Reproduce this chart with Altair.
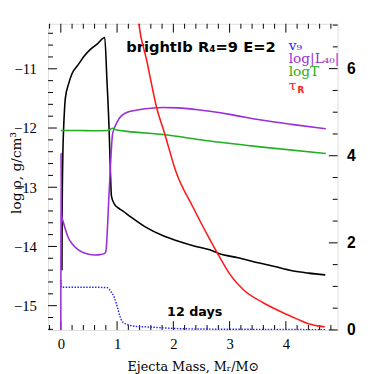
import altair as alt
import pandas as pd
import numpy as np

# ---------------- data ----------------
X_DOMAIN = [-0.226, 4.92]
RHO_DOMAIN = [-15.41, -10.24]
R_DOMAIN = [0.0, 7.03]

rho_mass = [0.02, 0.025, 0.035, 0.05, 0.065, 0.08, 0.14, 0.20, 0.31, 0.42, 0.54, 0.66, 0.78,
            0.82, 0.86, 0.88, 0.90, 0.95, 1.02, 1.10, 1.24, 1.50, 1.82, 2.05, 2.40, 2.66,
            2.81, 3.15, 3.53, 3.80, 4.11, 4.40, 4.70]
rho_val = [-14.4, -13.3, -12.5, -12.0, -11.7, -11.5, -11.25, -11.08, -10.93, -10.78, -10.66,
           -10.57, -10.47, -11.2, -12.07, -12.7, -13.15, -13.28, -13.35, -13.4, -13.5, -13.67,
           -13.82, -13.9, -14.0, -14.06, -14.12, -14.19, -14.28, -14.34, -14.41, -14.45, -14.48]

lum_mass = [0.0, 0.004, 0.008, 0.014, 0.02, 0.05, 0.08, 0.14, 0.2, 0.3, 0.43, 0.6, 0.7, 0.78,
            0.80, 0.86, 0.92, 0.95, 1.0, 1.04, 1.1, 1.18, 1.36, 1.6, 1.8, 2.1, 2.4, 3.0, 3.56,
            4.1, 4.71]
lum_val = [0.0, 4.05, 3.3, 2.7, 2.6, 2.45, 2.31, 2.1, 1.98, 1.85, 1.76, 1.72, 1.73, 1.76,
           1.8, 3.2, 4.5, 4.63, 4.77, 4.86, 4.94, 5.0, 5.05, 5.09, 5.11, 5.1, 5.06, 4.95, 4.82,
           4.72, 4.62]

temp_mass = [0.0, 0.3, 0.6, 0.83, 0.88, 0.92, 0.97, 1.05, 1.18, 1.85, 2.57, 3.5, 4.71]
temp_val = [4.58, 4.58, 4.575, 4.58, 4.61, 4.63, 4.6, 4.58, 4.56, 4.48, 4.35, 4.21, 4.05]

tau_mass = [1.37, 1.386, 1.53, 1.70, 1.85, 2.05, 2.34, 2.66, 2.81, 3.01, 3.24, 3.59, 3.94,
            4.20, 4.40, 4.69]
tau_val = [7.2, 7.03, 6.17, 5.12, 4.49, 3.62, 2.84, 2.05, 1.70, 1.27, 0.93, 0.63, 0.40,
           0.25, 0.14, 0.07]

vel_mass = [0.0, 0.005, 0.01, 0.3, 0.6, 0.83, 0.88, 0.95, 1.0, 1.05, 1.1, 1.17, 1.24, 1.36,
            1.53, 1.8, 2.1, 2.6, 3.2, 4.0, 4.71]
vel_val = [1.15, 1.05, 0.98, 0.98, 0.98, 0.97, 0.9, 0.75, 0.55, 0.32, 0.18, 0.13, 0.1, 0.08,
           0.07, 0.05, 0.03, 0.02, 0.015, 0.01, 0.005]

x_labels = [0, 1, 2, 3, 4]
rho_labels = [-15, -14, -13, -12, -11]
r_labels = [0, 2, 4, 6]

legend_text = ["v₉", "log|L₄₀|", "logT", "τ"]
legend_color = ["#2323ff", "#9b2fd6", "#20b020", "#ff1a1a"]
legend_pos_x = [4.05, 4.05, 4.05, 4.05]
legend_pos_y = [6.43, 6.12, 5.82, 5.50]

# ---------------- layout ----------------
W, H = 296, 313
xscale = alt.Scale(domain=X_DOMAIN, nice=False, zero=False)
lscale = alt.Scale(domain=RHO_DOMAIN, nice=False, zero=False)
rscale = alt.Scale(domain=R_DOMAIN, nice=False, zero=False)

xaxis = alt.Axis(values=x_labels, ticks=False, domain=False, grid=False,
                 labelFont="Liberation Serif", labelFontSize=15, labelPadding=7,
                 labelColor="black", title="Ejecta Mass, Mᵣ/M⊙", titleFont="DejaVu Serif",
                 titleFontSize=13, titleFontWeight="normal", titlePadding=9, titleColor="black")
laxis = alt.Axis(values=rho_labels, ticks=False, domain=False, grid=False,
                 labelFont="Liberation Serif", labelFontSize=15, labelPadding=12,
                 labelColor="black", title="log ρ, g/cm³", titleFont="DejaVu Serif",
                 titleFontSize=14, titleFontWeight="normal", titleColor="black",
                 titleX=-28, titleY=152, titleAngle=270, titleAlign="center",
                 titleBaseline="alphabetic", orient="left")
raxis = alt.Axis(values=r_labels, ticks=False, domain=False, grid=False,
                 labelFont="Liberation Sans", labelFontSize=16, labelFontWeight="bold",
                 labelPadding=9, labelColor="black", title=None, orient="right")


def line_df(xs, ys):
    return pd.DataFrame({"x": xs, "y": ys, "i": np.arange(len(xs))})


def series(xs, ys, color, scale, axis, dash=None, width=1.6):
    kw = dict(color=color, strokeWidth=width, clip=True, interpolate="monotone")
    if dash:
        kw["strokeDash"] = dash
    return alt.Chart(line_df(xs, ys)).mark_line(**kw).encode(
        x=alt.X("x:Q", scale=xscale, axis=xaxis),
        y=alt.Y("y:Q", scale=scale, axis=axis),
        order=alt.Order("i:Q"),
    )


# tick positions
xt = np.round(np.arange(-0.2, 4.81, 0.2), 2)
xt_major = pd.DataFrame({"v": [v for v in xt if abs(v - round(v)) < 1e-6]})
xt_minor = pd.DataFrame({"v": [v for v in xt if abs(v - round(v)) >= 1e-6]})
lt = np.round(np.arange(-15.4, -10.39, 0.2), 2)
lt_major = pd.DataFrame({"v": [v for v in lt if abs(v - round(v)) < 1e-6]})
lt_minor = pd.DataFrame({"v": [v for v in lt if abs(v - round(v)) >= 1e-6]})
rt = np.round(np.arange(0.0, 7.01, 0.5), 2)
rt_major = pd.DataFrame({"v": [v for v in rt if abs(v / 2 - round(v / 2)) < 1e-6]})
rt_minor = pd.DataFrame({"v": [v for v in rt if abs(v / 2 - round(v / 2)) >= 1e-6]})

MAJ, MIN = 9, 5


def xticks(df, size):
    bot = alt.Chart(df).mark_rule(color="black", strokeWidth=1).encode(
        x=alt.X("v:Q", scale=xscale, axis=xaxis), y=alt.value(H), y2=alt.value(H - size))
    top = alt.Chart(df).mark_rule(color="black", strokeWidth=1).encode(
        x=alt.X("v:Q", scale=xscale, axis=xaxis), y=alt.value(0), y2=alt.value(size))
    return [bot, top]


def lticks(df, size):
    return alt.Chart(df).mark_rule(color="black", strokeWidth=1).encode(
        y=alt.Y("v:Q", scale=lscale, axis=laxis), x=alt.value(0), x2=alt.value(size))


def rticks(df, size):
    return alt.Chart(df).mark_rule(color="black", strokeWidth=1).encode(
        y=alt.Y("v:Q", scale=rscale, axis=raxis), x=alt.value(W), x2=alt.value(W - size))


black = series(rho_mass, rho_val, "black", lscale, laxis)
title_df = pd.DataFrame({"x": [2.49], "y": [-10.71], "t": ["brightIb R₄=9 E=2"]})
title_txt = alt.Chart(title_df).mark_text(
    font="DejaVu Sans", fontSize=15, fontWeight="bold", color="black",
    align="center", baseline="alphabetic").encode(
    x=alt.X("x:Q", scale=xscale, axis=xaxis),
    y=alt.Y("y:Q", scale=lscale, axis=laxis), text="t:N")

left = alt.layer(black, *xticks(xt_major, MAJ), *xticks(xt_minor, MIN),
                 lticks(lt_major, MAJ), lticks(lt_minor, MIN), title_txt)

purple = series(lum_mass, lum_val, "#9b2fd6", rscale, raxis)
green = series(temp_mass, temp_val, "#20b020", rscale, raxis)
red = series(tau_mass, tau_val, "#ff1a1a", rscale, raxis)
blue = series(vel_mass, vel_val, "#2323ff", rscale, raxis, dash=[1.5, 1.5], width=1.5)

leg_df = pd.DataFrame({"x": legend_pos_x, "y": legend_pos_y, "t": legend_text,
                       "c": legend_color})
leg = alt.Chart(leg_df).mark_text(
    font="DejaVu Serif", fontSize=14, align="left", baseline="alphabetic").encode(
    x=alt.X("x:Q", scale=xscale, axis=xaxis),
    y=alt.Y("y:Q", scale=rscale, axis=raxis),
    text="t:N", color=alt.Color("c:N", scale=None))
sub_df = pd.DataFrame({"x": [legend_pos_x[3]], "y": [legend_pos_y[3]], "t": ["R"]})
sub = alt.Chart(sub_df).mark_text(
    font="DejaVu Sans", fontSize=9, fontWeight="bold", color="#ff1a1a", align="left",
    baseline="alphabetic", dx=9, dy=3).encode(
    x=alt.X("x:Q", scale=xscale, axis=xaxis),
    y=alt.Y("y:Q", scale=rscale, axis=raxis), text="t:N")
days_df = pd.DataFrame({"x": [2.38], "y": [0.31], "t": ["12 days"]})
days = alt.Chart(days_df).mark_text(
    font="DejaVu Sans", fontSize=13, fontWeight="bold", color="black",
    align="center", baseline="alphabetic").encode(
    x=alt.X("x:Q", scale=xscale, axis=xaxis),
    y=alt.Y("y:Q", scale=rscale, axis=raxis), text="t:N")

right = alt.layer(blue, purple, green, red, rticks(rt_major, MAJ), rticks(rt_minor, MIN),
                  leg, sub, days)

chart = alt.layer(left, right).resolve_scale(y="independent").properties(
    width=W, height=H,
    autosize=alt.AutoSizeParams(type="none"),
    padding={"left": 41, "top": 12, "right": 29, "bottom": 46},
).configure_view(stroke="black", strokeWidth=1.5).configure(background="white")

chart.save("out.html", embed_options={"renderer": "svg", "actions": False})
